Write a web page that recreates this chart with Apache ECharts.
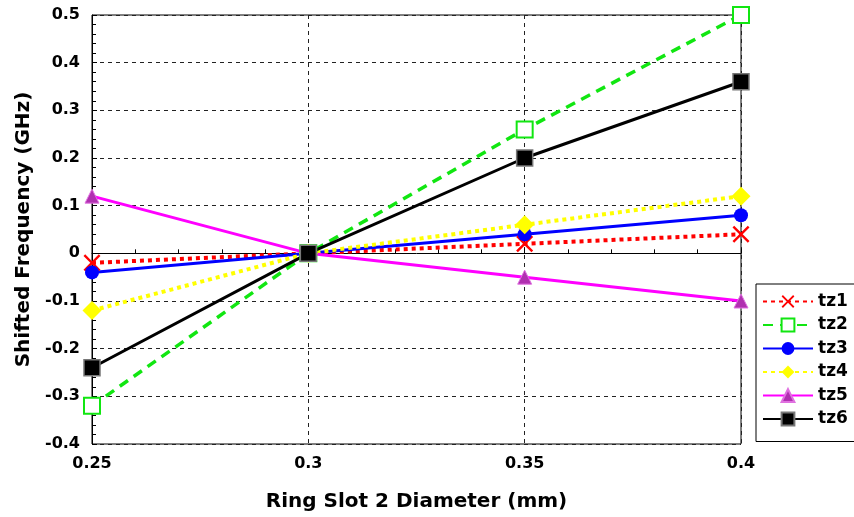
<!DOCTYPE html>
<html>
<head>
<meta charset="utf-8">
<script src="https://cdn.jsdelivr.net/npm/echarts@6/dist/echarts.min.js"></script>
<style>
  html, body { margin: 0; padding: 0; background: #fff; }
  #chart { width: 854px; height: 517px; }
</style>
</head>
<body>
<div id="chart"></div>
<script>
// Ring slot 2 diameter (mm)
const diameters = [0.25, 0.3, 0.35, 0.4];

// Shifted frequency of each transmission zero (GHz)
const tz1 = [-0.02, 0, 0.02, 0.04];
const tz2 = [-0.32, 0, 0.26, 0.5];
const tz3 = [-0.04, 0, 0.04, 0.08];
const tz4 = [-0.12, 0, 0.06, 0.12];
const tz5 = [0.12, 0, -0.05, -0.1];
const tz6 = [-0.24, 0, 0.2, 0.36];

const seriesNames = ['tz1', 'tz2', 'tz3', 'tz4', 'tz5', 'tz6'];

const FONT = 'DejaVu Sans';
const crossPath = 'path://M1,0 L5,4 L9,0 L10,1 L6,5 L10,9 L9,10 L5,6 L1,10 L0,9 L4,5 L0,1 Z';

function pairs(values) {
  return diameters.map((d, i) => [d, values[i]]);
}

const styles = [
  { data: tz1, line: { color: '#ff0000', width: 4, type: [4, 4] }, symbol: crossPath, size: 17, item: { color: '#ff0000' } },
  { data: tz2, line: { color: '#11e611', width: 3.5, type: [10, 7] }, symbol: 'emptyRect', size: 16, item: { color: '#11e611', borderWidth: 3 } },
  { data: tz3, line: { color: '#0000ff', width: 3 }, symbol: 'circle', size: 14, item: { color: '#0000ff' } },
  { data: tz4, line: { color: '#ffff00', width: 4, type: [4, 4] }, symbol: 'diamond', size: 19, item: { color: '#ffff00' } },
  { data: tz5, line: { color: '#ff00ff', width: 3 }, symbol: 'triangle', size: 14, item: { color: '#b030b0', borderColor: '#e070e0', borderWidth: 1 } },
  { data: tz6, line: { color: '#000000', width: 3 }, symbol: 'rect', size: 16, item: { color: '#000000', borderColor: '#777777', borderWidth: 1.5 } }
];

const chart = echarts.init(document.getElementById('chart'), null, { renderer: 'canvas' });

chart.setOption({
  animation: false,
  backgroundColor: '#ffffff',
  grid: {
    left: 92, top: 15, right: 113, bottom: 73,
    show: true, borderColor: '#000', borderWidth: 1, backgroundColor: 'transparent'
  },
  xAxis: {
    type: 'value',
    min: 0.25, max: 0.4, interval: 0.05,
    name: 'Ring Slot 2 Diameter (mm)',
    nameLocation: 'middle',
    nameGap: 48,
    nameTextStyle: { fontFamily: FONT, fontWeight: 'bold', fontSize: 20, color: '#000' },
    axisLine: { show: true, lineStyle: { color: '#000', width: 1 } },
    axisTick: { show: true, inside: true, length: 5, lineStyle: { color: '#000' } },
    minorTick: { show: true, splitNumber: 5, length: 4, lineStyle: { color: '#000' } },
    axisLabel: { margin: 12, fontFamily: FONT, fontWeight: 'bold', fontSize: 16, color: '#000' },
    splitLine: { show: true, lineStyle: { color: '#222', type: [4, 4], width: 1 } }
  },
  yAxis: {
    type: 'value',
    min: -0.4, max: 0.5, interval: 0.1,
    name: 'Shifted Frequency (GHz)',
    nameLocation: 'middle',
    nameGap: 56,
    nameTextStyle: { fontFamily: FONT, fontWeight: 'bold', fontSize: 20, color: '#000' },
    axisLine: { show: true, lineStyle: { color: '#000', width: 1 } },
    axisTick: { show: true, inside: true, length: 5, lineStyle: { color: '#000' } },
    minorTick: { show: true, splitNumber: 5, length: 4, lineStyle: { color: '#000' } },
    axisLabel: {
      margin: 12, fontFamily: FONT, fontWeight: 'bold', fontSize: 16, color: '#000',
      formatter: v => String(Math.round(v * 10) / 10)
    },
    splitLine: { show: true, lineStyle: { color: '#222', type: [4, 4], width: 1 } }
  },
  legend: {
    show: true,
    orient: 'vertical',
    left: 756, top: 284,
    width: 110,
    padding: [9, 8, 14, 6],
    backgroundColor: '#fff',
    borderColor: '#000', borderWidth: 1,
    itemWidth: 50, itemHeight: 16, itemGap: 6.5,
    textStyle: { fontFamily: FONT, fontWeight: 'bold', fontSize: 17, color: '#000', padding: [0, 20, 0, 0] },
    data: seriesNames
  },
  series: styles.map((s, i) => ({
    name: seriesNames[i],
    type: 'line',
    data: pairs(s.data),
    clip: false,
    symbol: s.symbol,
    symbolSize: s.size,
    showAllSymbol: true,
    lineStyle: s.line,
    itemStyle: s.item,
    z: 3
  }))
});
</script>
</body>
</html>
